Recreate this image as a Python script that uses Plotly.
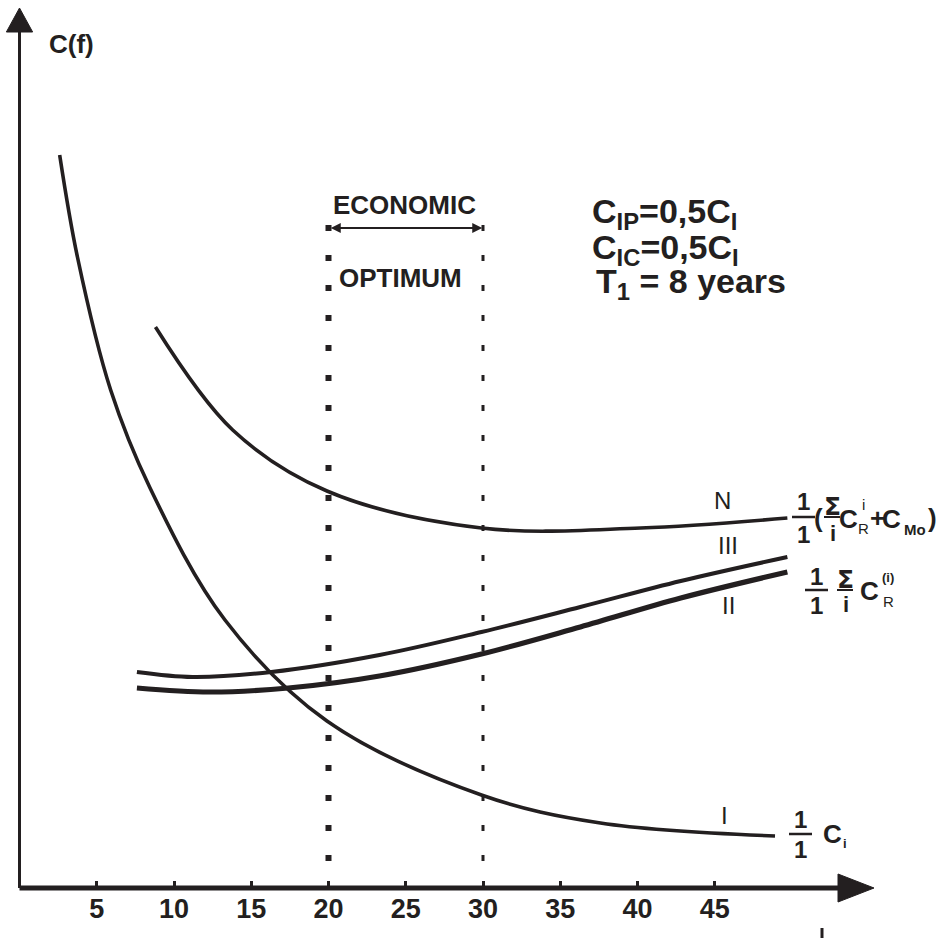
import plotly.graph_objects as go

W, H = 937, 938
INK = "#231f20"
FONT = "Liberation Sans, Arial, sans-serif"

# ---- data -------------------------------------------------------------
X_TICKS = [5, 10, 15, 20, 25, 30, 35, 40, 45]
X_TICK_TEXT = ["5", "10", "15", "20", "25", "30", "35", "40", "45"]

# curve I : 1/t * C_i
I_X = [2.6, 3.75, 5.9, 8.45, 13.3, 19.9, 29.9, 37.6, 48.9]
I_Y = [73.3, 63.1, 49.8, 40.0, 26.8, 16.7, 9.3, 6.5, 5.2]

# curve II
II_X = [7.6, 12.3, 17.4, 23.3, 29.9, 36.3, 42.8, 49.7]
II_Y = [20.0, 19.6, 20.0, 21.2, 23.4, 26.1, 29.0, 31.6]

# curve III
III_X = [7.6, 11.2, 16.3, 23.3, 29.9, 36.3, 42.8, 49.7]
III_Y = [21.6, 21.1, 21.6, 23.3, 25.6, 28.1, 30.7, 33.1]

# curve N : total
N_X = [8.8, 13.8, 19.9, 29.9, 40.2, 49.7]
N_Y = [56.1, 45.8, 39.7, 36.0, 36.0, 37.0]

OPTIMUM = [20, 30]          # economic optimum interval
OPT_Y = [66.3, 2.2]         # extent of the boundary markers

# ---- geometry ---------------------------------------------------------
X0_PX, PX_PER_X = 19.5, 15.45
AXIS_PY, PX_PER_Y = 888, 10.0
X_RANGE = [-X0_PX / PX_PER_X, (W - X0_PX) / PX_PER_X]
Y_RANGE = [-(H - AXIS_PY) / PX_PER_Y, AXIS_PY / PX_PER_Y]


def dx(px):
    return (px - X0_PX) / PX_PER_X


def dy(py):
    return (AXIS_PY - py) / PX_PER_Y


def pxp(px):
    return px / W


def pyp(py):
    return 1 - py / H


fig = go.Figure()

# economic optimum boundaries
fig.add_trace(go.Scatter(x=[OPTIMUM[0]] * 2, y=OPT_Y, mode="lines",
                         line=dict(color=INK, width=6, dash="6px,24px"),
                         hoverinfo="skip", showlegend=False))
fig.add_trace(go.Scatter(x=[OPTIMUM[1]] * 2, y=OPT_Y, mode="lines",
                         line=dict(color=INK, width=3, dash="6px,24px"),
                         hoverinfo="skip", showlegend=False))

# cost curves
for xs, ys, w in [(I_X, I_Y, 3.6), (N_X, N_Y, 3.6), (III_X, III_Y, 4), (II_X, II_Y, 5.2)]:
    fig.add_trace(go.Scatter(x=xs, y=ys, mode="lines",
                             line=dict(color=INK, width=w, shape="spline", smoothing=1.0),
                             hoverinfo="skip", showlegend=False))

shapes = []
# axes with arrow heads
x_base, x_tip = dx(838), dx(874)
y_base, y_tip = dy(32), dy(8)
shapes.append(dict(type="line", xref="x", yref="y", x0=0, y0=0, x1=x_base, y1=0,
                   line=dict(color=INK, width=5)))
shapes.append(dict(type="path", xref="x", yref="y",
                   path=f"M {x_base},{1.4} L {x_tip},0 L {x_base},{-1.4} Z",
                   fillcolor=INK, line=dict(color=INK, width=1)))
shapes.append(dict(type="line", xref="x", yref="y", x0=0, y0=0, x1=0, y1=y_base,
                   line=dict(color=INK, width=3)))
shapes.append(dict(type="path", xref="x", yref="y",
                   path=f"M {-0.85},{y_base} L 0,{y_tip} L {0.85},{y_base} Z",
                   fillcolor=INK, line=dict(color=INK, width=1)))
# small stray mark below the axis
shapes.append(dict(type="line", xref="paper", yref="paper",
                   x0=pxp(822), x1=pxp(822), y0=pyp(928), y1=pyp(938),
                   line=dict(color=INK, width=3)))


def bar(x0, x1, y, w=2.5):
    shapes.append(dict(type="line", xref="paper", yref="paper",
                       x0=pxp(x0), x1=pxp(x1), y0=pyp(y), y1=pyp(y),
                       line=dict(color=INK, width=w)))


annotations = []


def text(s, px, py, size, bold=True, xanchor="center", family=FONT):
    annotations.append(dict(text=f"<b>{s}</b>" if bold else s,
                            x=pxp(px), y=pyp(py), xref="paper", yref="paper",
                            xanchor=xanchor, yanchor="middle", showarrow=False,
                            font=dict(family=family, size=size, color=INK)))


SIGMA_FONT = "DejaVu Sans, " + FONT

# axis title
text("C(f)", 71, 44, 26)

# optimum bracket
annotations.append(dict(x=OPTIMUM[1] - 0.05, y=dy(228), ax=OPTIMUM[0] + 0.05, ay=dy(228),
                        xref="x", yref="y", axref="x", ayref="y", text="",
                        showarrow=True, arrowhead=2, arrowside="end+start",
                        arrowsize=1, arrowwidth=2, arrowcolor=INK))
text("ECONOMIC", 404, 205, 26)
text("OPTIMUM", 400, 278, 26)

# parameters
text("C<sub>IP</sub>=0,5C<sub>I</sub>", 590, 213, 34, xanchor="left")
text("C<sub>IC</sub>=0,5C<sub>I</sub>", 590, 250, 34, xanchor="left")
text("T<sub>1</sub> = 8 years", 594, 283, 34, xanchor="left")

# curve labels
text("N", 722, 500, 24, bold=False)
text("III", 728, 545, 24, bold=False)
text("II", 728, 605, 24, bold=False)
text("I", 724, 815, 24, bold=False)

# formula for N
text("1", 803, 501, 24); bar(792, 815, 517); text("1", 803, 534, 24)
text("(", 818, 518, 26)
text("Σ", 832, 506, 25, family=SIGMA_FONT); bar(824, 840, 517, 2); text("i", 833, 533, 22)
text("C", 848, 519, 26)
text("i", 863, 505, 15, bold=False)
text("R", 863, 528, 15, bold=False)
text("+", 877, 518, 26)
text("C", 891, 519, 26)
text("Mo", 915, 529, 15)
text(")", 932, 518, 26)

# formula for II / III
text("1", 816, 576, 24); bar(805, 828, 590); text("1", 816, 605, 24)
text("Σ", 845, 579, 25, family=SIGMA_FONT); bar(837, 853, 590, 2); text("i", 846, 604, 22)
text("C", 869, 591, 26)
text("(i)", 888, 577, 13)
text("R", 888, 601, 15, bold=False)

# formula for I
text("1", 800, 819, 24); bar(789, 812, 834); text("1", 800, 849, 24)
text("C", 832, 834, 26)
text("i", 845, 843, 13)

fig.update_layout(
    width=W, height=H,
    margin=dict(l=0, r=0, t=0, b=0),
    paper_bgcolor="white", plot_bgcolor="white",
    shapes=shapes, annotations=annotations,
    xaxis=dict(range=X_RANGE, domain=[0, 1], anchor="free", position=(H - AXIS_PY) / H,
               showgrid=False, zeroline=False, showline=False,
               tickvals=X_TICKS, ticktext=[f"<b>{t}</b>" for t in X_TICK_TEXT],
               ticks="inside", ticklen=7, tickwidth=2.5, tickcolor=INK,
               tickfont=dict(family="Liberation Sans Narrow, " + FONT, size=27, color=INK),
               ticklabelstandoff=2, fixedrange=True),
    yaxis=dict(range=Y_RANGE, domain=[0, 1], showgrid=False, zeroline=False,
               showline=False, showticklabels=False, ticks="", fixedrange=True),
    showlegend=False,
)

fig.write_html("out.html")
